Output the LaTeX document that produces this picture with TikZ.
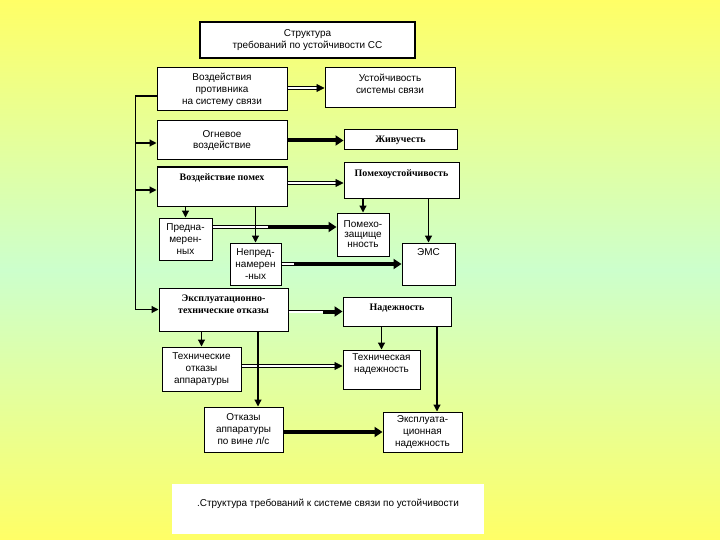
\documentclass[tikz,border=0pt]{standalone}
\usepackage{fontspec}
\setmainfont{Liberation Sans}
\newfontfamily\timesfont{Liberation Serif}
\usetikzlibrary{arrows.meta}
\definecolor{bgyellow}{HTML}{FFFF66}
\definecolor{bggreen}{HTML}{CCFFCC}

\begin{document}
\begin{tikzpicture}
[x=1bp, y=1bp,
 box/.style={rectangle, draw=black, line width=1bp, fill=white, inner sep=0pt, align=center, font=\fontsize{10}{12}\selectfont},
 boldbox/.style={box, font=\fontsize{10}{12}\timesfont\bfseries},
 wire/.style={line width=1.2bp},
 arr/.style={wire, -{Triangle[length=7bp,width=7bp]}},
 heavy/.style={line width=4bp, -{Triangle[length=8bp,width=10bp]}},
 dbl/.style={line width=0.8bp, double=white, double distance=2bp, -{Triangle[length=8bp,width=8bp]}}]

%Background
\shade[top color=bgyellow, bottom color=bggreen] (0,0) rectangle (720,-270);
\shade[top color=bggreen, bottom color=bgyellow] (0,-270) rectangle (720,-540);

%Nodes
\node[box, line width=2.5bp, minimum width=215bp, minimum height=36bp] (title) at (307.5,-40) {Структура\\требований по устойчивости СС};
\node[box, below of=title, node distance=49.5bp, xshift=-85.5bp, minimum width=130bp, minimum height=43bp] (vozd) {Воздействия\\противника\\на систему связи};
\node[box, right of=vozd, node distance=168bp, yshift=1.5bp, minimum width=130bp, text height=25.5bp, text depth=14.5bp] (ustoj) {Устойчивость\\системы связи};
\node[box, below of=vozd, node distance=51bp, minimum width=130bp, minimum height=39bp] (ogn) {Огневое\\воздействие};
\node[boldbox, right of=ogn, node distance=178.5bp, yshift=0.5bp, minimum width=113bp, minimum height=20bp] (zhiv) {Живучесть};
\node[boldbox, below of=ogn, node distance=46bp, minimum width=130bp, text height=13bp, text depth=26bp] (pomeh) {Воздействие помех};
\node[boldbox, right of=pomeh, node distance=179.5bp, yshift=6bp, minimum width=115bp, text height=13bp, text depth=22bp] (pust) {Помехоустойчивость};
\node[box, below of=pomeh, node distance=52.5bp, xshift=-36.5bp, minimum width=53bp, minimum height=42bp] (pred) {Предна-\\мерен-\\ных};
\node[box, right of=pred, node distance=70bp, yshift=-25bp, minimum width=51bp, minimum height=42bp] (nepred) {Непред-\\намерен\\-ных};
\node[box, below of=pust, node distance=54bp, xshift=-38.5bp, minimum width=52bp, minimum height=43bp, font=\fontsize{10}{10}\selectfont] (pzash) {Помехо-\\защище\\нность};
\node[box, right of=nepred, node distance=173bp, minimum width=53bp, text height=12.5bp, text depth=29.5bp] (ems) {ЭМС};
\node[boldbox, below of=pomeh, node distance=123bp, xshift=1.5bp, minimum width=129bp, text height=25.5bp, text depth=17.5bp] (expl) {Эксплуатационно-\\технические отказы};
\node[boldbox, right of=expl, node distance=173.5bp, yshift=-2bp, minimum width=108bp, text height=13bp, text depth=16bp] (nad) {Надежность};
\node[box, below of=expl, node distance=59.5bp, xshift=-22bp, minimum width=79bp, minimum height=44bp] (tehotk) {Технические\\отказы\\аппаратуры};
\node[box, right of=tehotk, node distance=180bp, yshift=-0.5bp, minimum width=77bp, text height=22.5bp, text depth=16.5bp] (tehnad) {Техническая\\надежность};
\node[box, below of=tehotk, node distance=60.5bp, xshift=42bp, minimum width=79bp, minimum height=45bp] (otkls) {Отказы\\аппаратуры\\по вине л/с};
\node[box, right of=otkls, node distance=179bp, yshift=-2.5bp, minimum width=79bp, minimum height=40bp] (explnad) {Эксплуата-\\ционная\\надежность};
\node[box, draw=none, below of=otkls, node distance=79.5bp, xshift=84.5bp, minimum width=312bp, text height=22.5bp, text depth=27.5bp] (caption) {.Структура требований к системе связи по устойчивости};

%Lines
\draw[arr] ([yshift=-6.5bp]vozd.west) -- ++(-21bp,0) coordinate (bus) |- (expl.west);
\draw[arr] ([yshift=-2.5bp]bus |- ogn.west) -- ([yshift=-2.5bp]ogn.west);
\draw[arr] ([yshift=-3.5bp]bus |- pomeh.west) -- ([yshift=-3.5bp]pomeh.west);

\draw[dbl] (vozd.east |- ustoj.west) -- (ustoj.west);
\draw[heavy] (ogn.east) -- (ogn.east -| zhiv.west);
\draw[dbl] ([yshift=3.5bp]pomeh.east) -- ([yshift=3.5bp]pomeh.east -| pust.west);
\draw[dbl, -] ([yshift=12bp]pred.east) -- ++(55bp,0) coordinate (predmid);
\draw[heavy] (predmid) -- (predmid -| pzash.west);
\draw[dbl, -] (nepred.east) -- ++(12bp,0) coordinate (nepredmid);
\draw[heavy] (nepredmid) -- (ems.west);
\draw[dbl, -] (expl.east |- nad.west) -- ++(34bp,0) coordinate (explmid);
\draw[heavy] (explmid) -- (nad.west);
\draw[dbl] ([yshift=3bp]tehotk.east) -- ([yshift=3bp]tehotk.east -| tehnad.west);
\draw[heavy] (otkls.east |- explnad.west) -- (explnad.west);

\draw[arr] (pomeh.south -| pred.north) -- (pred.north);
\draw[arr] (pomeh.south -| nepred.north) -- (nepred.north);
\draw[arr] (pust.south -| pzash.north) -- (pzash.north);
\draw[arr] (pust.south -| ems.north) -- (ems.north);
\draw[arr] (expl.south -| tehotk.north) -- (tehotk.north);
\draw[arr] ([xshift=14.5bp]otkls.north |- expl.south) -- ([xshift=14.5bp]otkls.north);
\draw[arr] (nad.south -| tehnad.north) -- (tehnad.north);
\draw[arr] ([xshift=14.5bp]explnad.north |- nad.south) -- ([xshift=14.5bp]explnad.north);

\end{tikzpicture}
\end{document}
